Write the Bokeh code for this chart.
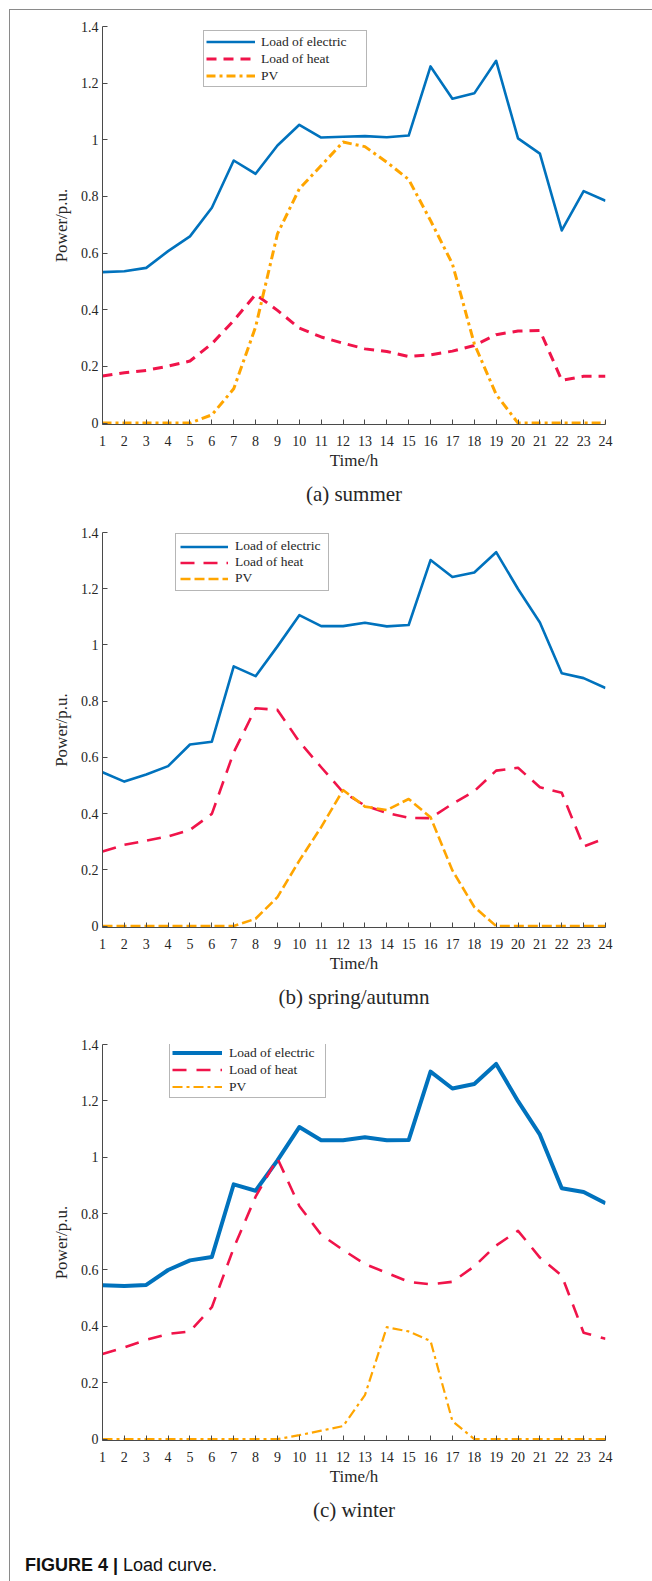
from bokeh.plotting import figure
from bokeh.layouts import column
from bokeh.models import Range1d, FixedTicker, Legend, LegendItem, Title, Div
from bokeh.embed import file_html
from bokeh.resources import INLINE

# ---- data (per-unit power, hourly) ----
hours = list(range(1, 25))
y_ticks = [0, 0.2, 0.4, 0.6, 0.8, 1.0, 1.2, 1.4]
series_names = ["Load of electric", "Load of heat", "PV"]

summer_electric = [0.533, 0.536, 0.548, 0.607, 0.659, 0.760, 0.927, 0.880, 0.980, 1.053, 1.008, 1.011,
                   1.013, 1.009, 1.015, 1.259, 1.145, 1.164, 1.279, 1.005, 0.951, 0.680, 0.819, 0.785]
summer_heat = [0.166, 0.178, 0.186, 0.201, 0.219, 0.280, 0.362, 0.454, 0.398, 0.335, 0.304, 0.282,
               0.262, 0.253, 0.235, 0.241, 0.254, 0.274, 0.312, 0.325, 0.327, 0.151, 0.165, 0.165]
summer_pv = [0, 0, 0, 0, 0, 0.029, 0.121, 0.339, 0.668, 0.827, 0.909, 0.992,
             0.976, 0.921, 0.860, 0.715, 0.562, 0.280, 0.101, 0, 0, 0, 0, 0]

spring_electric = [0.547, 0.514, 0.539, 0.569, 0.646, 0.656, 0.924, 0.889, 0.995, 1.106, 1.067, 1.067,
                   1.079, 1.066, 1.071, 1.302, 1.242, 1.258, 1.330, 1.199, 1.080, 0.899, 0.882, 0.847]
spring_heat = [0.265, 0.289, 0.304, 0.319, 0.342, 0.399, 0.618, 0.775, 0.769, 0.656, 0.565, 0.476,
               0.429, 0.402, 0.385, 0.384, 0.435, 0.480, 0.553, 0.563, 0.494, 0.474, 0.283, 0.313]
spring_pv = [0, 0, 0, 0, 0, 0, 0, 0.026, 0.103, 0.233, 0.352, 0.484,
             0.425, 0.413, 0.452, 0.387, 0.198, 0.068, 0, 0, 0, 0, 0, 0]

winter_electric = [0.546, 0.543, 0.547, 0.600, 0.634, 0.646, 0.904, 0.881, 0.989, 1.107, 1.060, 1.060,
                   1.071, 1.060, 1.061, 1.304, 1.244, 1.260, 1.331, 1.199, 1.080, 0.890, 0.877, 0.837]
winter_heat = [0.302, 0.325, 0.352, 0.373, 0.382, 0.468, 0.678, 0.860, 0.996, 0.827, 0.725, 0.671,
               0.621, 0.590, 0.558, 0.549, 0.558, 0.613, 0.687, 0.739, 0.644, 0.580, 0.377, 0.356]
winter_pv = [0, 0, 0, 0, 0, 0, 0, 0, 0, 0.014, 0.030, 0.046,
             0.156, 0.397, 0.382, 0.348, 0.064, 0, 0, 0, 0, 0, 0, 0]

# ---- styling ----
SERIF = "Liberation Serif"
SANS = "Liberation Sans"
COLORS = ["#0072BD", "#F0144A", "#FFA500"]
AXIS_COLOR = "#4a4a4a"
TEXT_COLOR = "#262626"
FIG_W = 642
BOTTOM = 90


def panel(title, values, *, top, frame_h, widths, dashes, legend_loc,
          legend_glyph_w, legend_row_h, legend_pad, legend_standoff, legend_label_w):
    p = figure(width=FIG_W, height=top + frame_h + BOTTOM, output_backend="svg",
               toolbar_location=None,
               x_range=Range1d(1, 24), y_range=Range1d(-0.005, 1.4),
               min_border_left=92, min_border_right=47, min_border_top=top,
               min_border_bottom=BOTTOM)
    p.outline_line_color = None
    p.xgrid.visible = False
    p.ygrid.visible = False
    p.background_fill_color = "white"
    p.border_fill_color = "white"

    renderers = []
    for vals, color, w, d in zip(values, COLORS, widths, dashes):
        r = p.line(hours, vals, line_color=color, line_width=w, line_dash=d,
                   line_join="round", line_cap="butt")
        renderers.append(r)

    for ax in (p.xaxis[0], p.yaxis[0]):
        ax.axis_line_color = AXIS_COLOR
        ax.major_tick_line_color = AXIS_COLOR
        ax.major_tick_in = 5
        ax.major_tick_out = 0
        ax.minor_tick_line_color = None
        ax.major_label_text_font = SERIF
        ax.major_label_text_font_size = "14px"
        ax.major_label_text_color = TEXT_COLOR
        ax.axis_label_text_font = SERIF
        ax.axis_label_text_font_size = "17px"
        ax.axis_label_text_font_style = "normal"
        ax.axis_label_text_color = TEXT_COLOR

    p.xaxis.ticker = FixedTicker(ticks=hours)
    p.xaxis.axis_label = "Time/h"
    p.xaxis.major_label_standoff = 11
    p.xaxis.axis_label_standoff = 2

    p.yaxis.ticker = FixedTicker(ticks=y_ticks)
    p.yaxis.major_label_overrides = {0: "0", 1: "1"}
    p.yaxis.axis_label = "Power/p.u."
    p.yaxis.major_label_standoff = 4
    p.yaxis.axis_label_standoff = 7

    legend = Legend(
        items=[LegendItem(label=n, renderers=[r]) for n, r in zip(series_names, renderers)],
        location=legend_loc, orientation="vertical",
        glyph_width=legend_glyph_w, glyph_height=legend_row_h, label_height=legend_row_h,
        label_width=legend_label_w, label_standoff=legend_standoff, spacing=0,
        padding=legend_pad, margin=0,
        label_text_font=SERIF, label_text_font_size="13.5px", label_text_color=TEXT_COLOR,
        border_line_color="#6e6e6e", border_line_width=1.2,
        background_fill_color="white", background_fill_alpha=1.0,
    )
    p.add_layout(legend)

    p.add_layout(Title(text=title, align="center", offset=5, standoff=14,
                       text_font=SERIF, text_font_size="21px", text_font_style="normal",
                       text_color=TEXT_COLOR), "below")
    return p


fig_a = panel("(a) summer", [summer_electric, summer_heat, summer_pv],
              top=16, frame_h=398,
              widths=[2.6, 3, 3], dashes=["solid", "10 7", "9 4 3 4"],
              legend_loc=(101, 337), legend_glyph_w=49, legend_row_h=17, legend_pad=2,
              legend_standoff=6, legend_label_w=103)

fig_b = panel("(b) spring/autumn", [spring_electric, spring_heat, spring_pv],
              top=18, frame_h=395,
              widths=[2.6, 2.6, 2.6], dashes=["solid", "14 9", "10 4"],
              legend_loc=(73, 336), legend_glyph_w=48, legend_row_h=15, legend_pad=4,
              legend_standoff=7, legend_label_w=89)

fig_c = panel("(c) winter", [winter_electric, winter_heat, winter_pv],
              top=27, frame_h=396,
              widths=[4, 2.6, 2.2], dashes=["solid", "14 10", "10 4 3 4"],
              legend_loc=(67, 342), legend_glyph_w=50, legend_row_h=17, legend_pad=2,
              legend_standoff=7, legend_label_w=94)

# ---- figure caption ----
caption = Div(
    text=(f'<div style="font-family:\'{SANS}\';font-size:18px;line-height:18px;'
          'color:#111111;padding:26px 0 0 15px;white-space:nowrap;">'
          '<span style="font-weight:bold;">FIGURE 4 |</span> Load curve.</div>'),
    width=FIG_W, height=51, margin=0)

layout = column(fig_a, fig_b, fig_c, caption, spacing=0, margin=(9, 0, 0, 9),
                styles={"border-left": "1px solid #8a8a8a", "border-top": "1px solid #8a8a8a"})

open("out.html", "w").write(file_html(layout, INLINE, title="Load curve"))
